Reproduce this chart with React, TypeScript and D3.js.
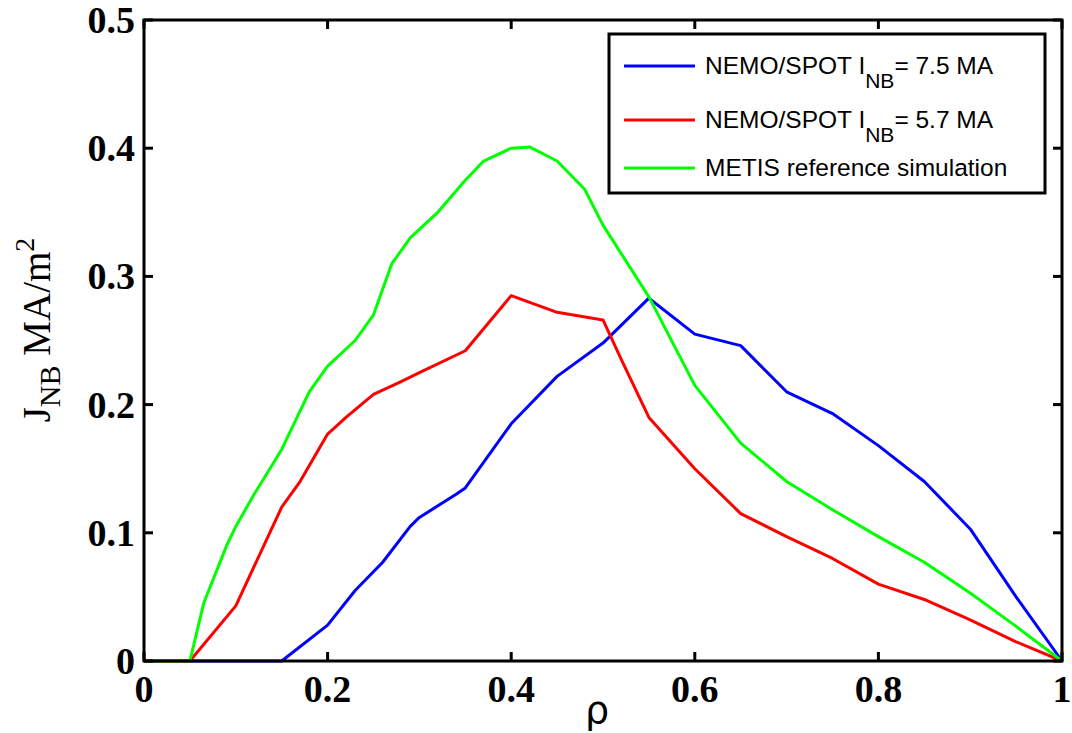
import React from "react";
import * as d3 from "d3";

const xTicks = [0, 0.2, 0.4, 0.6, 0.8, 1];
const yTicks = [0, 0.1, 0.2, 0.3, 0.4, 0.5];
const xTickLabels = ["0", "0.2", "0.4", "0.6", "0.8", "1"];
const yTickLabels = ["0", "0.1", "0.2", "0.3", "0.4", "0.5"];

const blueRho = [0, 0.15, 0.2, 0.23, 0.26, 0.29, 0.3, 0.34, 0.35, 0.4, 0.45, 0.5, 0.55, 0.6, 0.65, 0.7, 0.75, 0.8, 0.85, 0.9, 0.95, 1];
const blueJ = [0, 0, 0.028, 0.055, 0.077, 0.105, 0.112, 0.13, 0.135, 0.185, 0.222, 0.248, 0.283, 0.255, 0.246, 0.21, 0.193, 0.168, 0.14, 0.103, 0.05, 0];

const redRho = [0, 0.05, 0.1, 0.15, 0.17, 0.2, 0.22, 0.25, 0.28, 0.3, 0.35, 0.4, 0.45, 0.5, 0.52, 0.55, 0.6, 0.65, 0.7, 0.75, 0.8, 0.85, 0.9, 0.95, 1];
const redJ = [0, 0, 0.043, 0.12, 0.14, 0.177, 0.19, 0.208, 0.218, 0.225, 0.242, 0.285, 0.272, 0.266, 0.235, 0.19, 0.15, 0.115, 0.097, 0.08, 0.06, 0.048, 0.032, 0.015, 0];

const greenRho = [0, 0.05, 0.065, 0.09, 0.1, 0.12, 0.15, 0.18, 0.2, 0.23, 0.25, 0.27, 0.29, 0.32, 0.35, 0.37, 0.4, 0.42, 0.45, 0.48, 0.5, 0.55, 0.6, 0.65, 0.7, 0.75, 0.8, 0.85, 0.9, 0.95, 1];
const greenJ = [0, 0, 0.045, 0.09, 0.105, 0.13, 0.165, 0.21, 0.23, 0.25, 0.27, 0.31, 0.33, 0.35, 0.375, 0.39, 0.4, 0.401, 0.39, 0.368, 0.34, 0.284, 0.215, 0.17, 0.14, 0.118, 0.097, 0.077, 0.053, 0.027, 0];

const seriesNames = ["NEMO/SPOT I", "NEMO/SPOT I", "METIS reference simulation"];
const seriesSubs = ["NB", "NB", ""];
const seriesTails = ["= 7.5 MA", "= 5.7 MA", ""];
const seriesColors = ["#0000ff", "#ff0000", "#00ff00"];

const W = 1072;
const H = 733;
const L = 144, R = 1062, T = 20, B = 661;

export default function App() {
  const x = d3.scaleLinear().domain([0, 1]).range([L, R]);
  const y = d3.scaleLinear().domain([0, 0.5]).range([B, T]);
  const line = d3.line<[number, number]>().x((d) => x(d[0])).y((d) => y(d[1]));
  const series = [
    d3.zip(blueRho, blueJ) as [number, number][],
    d3.zip(redRho, redJ) as [number, number][],
    d3.zip(greenRho, greenJ) as [number, number][],
  ];
  const tickLen = 9;
  const legendRows = [66, 120, 168];
  return (
    <div style={{ position: "absolute", left: 0, top: 0 }}>
      <svg width={W} height={H} style={{ display: "block", background: "#fff" }}>
        <rect x={0} y={0} width={W} height={H} fill="#fff" />
        {series.map((s, i) => (
          <path key={i} d={line(s) || ""} fill="none" stroke={seriesColors[i]} strokeWidth={3} strokeLinejoin="round" />
        ))}
        <rect x={L} y={T} width={R - L} height={B - T} fill="none" stroke="#000" strokeWidth={3} />
        {xTicks.map((t, i) => (
          <g key={"x" + i}>
            <line x1={x(t)} x2={x(t)} y1={B} y2={B - tickLen} stroke="#000" strokeWidth={3} />
            <line x1={x(t)} x2={x(t)} y1={T} y2={T + tickLen} stroke="#000" strokeWidth={3} />
            <text x={x(t)} y={702} textAnchor="middle" fontFamily="'Liberation Serif', 'Times New Roman', serif" fontWeight="bold" fontSize={38}>{xTickLabels[i]}</text>
          </g>
        ))}
        {yTicks.map((t, i) => (
          <g key={"y" + i}>
            <line x1={L} x2={L + tickLen} y1={y(t)} y2={y(t)} stroke="#000" strokeWidth={3} />
            <line x1={R} x2={R - tickLen} y1={y(t)} y2={y(t)} stroke="#000" strokeWidth={3} />
            <text x={135} y={y(t) + 13} textAnchor="end" fontFamily="'Liberation Serif', 'Times New Roman', serif" fontWeight="bold" fontSize={38}>{yTickLabels[i]}</text>
          </g>
        ))}
        <text x={597} y={723} textAnchor="middle" fontFamily="'DejaVu Sans', 'Liberation Sans', sans-serif" fontSize={38}>ρ</text>
        <text transform="translate(50,330) rotate(-90)" textAnchor="middle" fontFamily="'Liberation Serif', 'Times New Roman', serif" fontSize={39}>
          J<tspan fontSize={30} dy={10}>NB</tspan><tspan dy={-10}> MA/m</tspan><tspan fontSize={28} dy={-16}>2</tspan>
        </text>
        <rect x={609} y={34} width={436} height={159} fill="#fff" stroke="#000" strokeWidth={3} />
        {legendRows.map((ly, i) => (
          <g key={"l" + i}>
            <line x1={624} x2={695} y1={ly} y2={ly} stroke={seriesColors[i]} strokeWidth={3} />
            <text x={705} y={ly + 8} fontFamily="'Liberation Sans', Arial, sans-serif" fontSize={24.5}>
              {seriesNames[i]}
              {seriesSubs[i] ? <tspan fontSize={21} dy={14}>{seriesSubs[i]}</tspan> : null}
              {seriesTails[i] ? <tspan dy={-14}>{seriesTails[i]}</tspan> : null}
            </text>
          </g>
        ))}
      </svg>
    </div>
  );
}
